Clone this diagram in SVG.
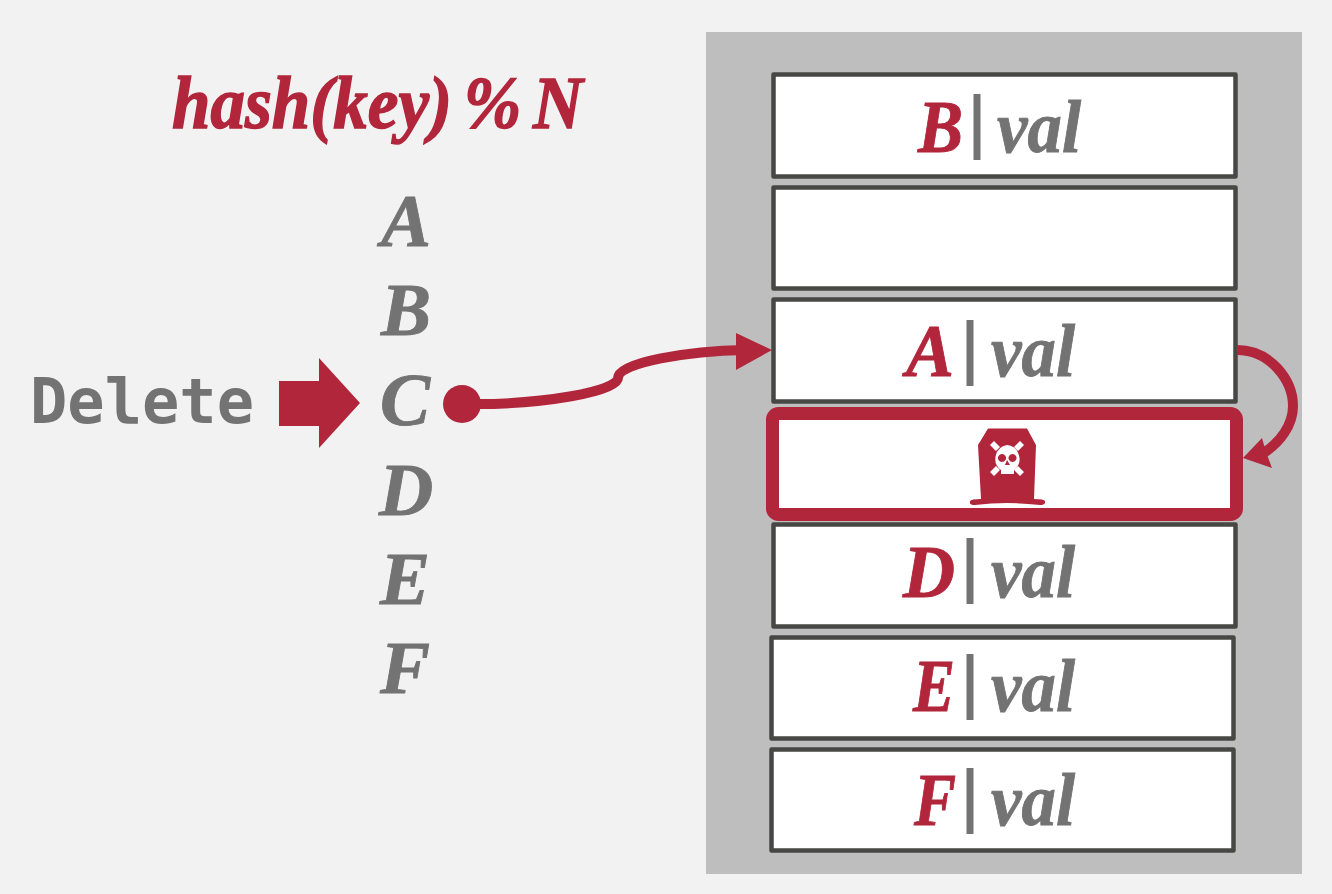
<svg xmlns="http://www.w3.org/2000/svg" width="1332" height="894" viewBox="0 0 1332 894">
  <style>
    .ser { font-family: "Liberation Serif", "Times New Roman", serif; font-weight: 700; font-style: italic; font-size: 75px; stroke-width: 0.9px; }
    .red { fill: #b2263c; }
    .ser.red { stroke: #b2263c; }
    .gray { fill: #737373; }
    .ser.gray, .ser .gray { stroke: #737373; }
    .slot { fill: #ffffff; stroke: #474744; stroke-width: 4.5; stroke-linejoin: round; }
    .bar { fill: none; stroke: #737373; stroke-width: 7; }
    .wire { fill: none; stroke: #b2263c; stroke-width: 10; }
  </style>
  <rect width="1332" height="894" fill="#f2f2f2"/>
  <rect id="table" x="706" y="32" width="596" height="842" fill="#bebebe"/>

  <g id="title"><text class="ser red" x="172" y="128" style="stroke-width:1.5px;word-spacing:-6px" textLength="411" lengthAdjust="spacingAndGlyphs">hash(key) % N</text></g>

  <g id="keys" class="ser gray" text-anchor="middle">
    <text id="key-a" x="406" y="246">A</text>
    <text id="key-b" x="406" y="335">B</text>
    <text id="key-c" x="405" y="425">C</text>
    <text id="key-d" x="406" y="515">D</text>
    <text id="key-e" x="405" y="604">E</text>
    <text id="key-f" x="405" y="693">F</text>
  </g>

  <g id="delete">
    <text x="30" y="423" font-family="'DejaVu Sans Mono', monospace" font-weight="700" font-size="63" fill="#737373" textLength="224" lengthAdjust="spacingAndGlyphs">Delete</text>
    <polygon class="red" points="279,381 319,381 319,358 360,403 319,448 319,426 279,426"/>
  </g>

  <g id="slot-b">
    <rect class="slot" x="773.500" y="74.500" width="462" height="102"/>
    <text class="ser red" x="918" y="152" textLength="45" lengthAdjust="spacingAndGlyphs">B</text><line class="bar" x1="977" y1="94" x2="977" y2="160"/><text class="ser gray" x="997" y="152" textLength="84" lengthAdjust="spacingAndGlyphs">val</text>
  </g>
  <g id="slot-empty"><rect class="slot" x="773.500" y="187.500" width="462" height="101"/></g>
  <g id="slot-a">
    <rect class="slot" x="773.500" y="299.500" width="462" height="102"/>
    <text class="ser red" x="906" y="376" textLength="48" lengthAdjust="spacingAndGlyphs">A</text><line class="bar" x1="970" y1="320" x2="970" y2="386"/><text class="ser gray" x="991" y="376" textLength="84" lengthAdjust="spacingAndGlyphs">val</text>
  </g>
  <g id="slot-tombstone">
    <rect x="772.500" y="413.500" width="464" height="101" rx="6" fill="#ffffff" stroke="#b2263c" stroke-width="13"/>
    <path class="red" d="M988,428.500 L1027,428.500 L1036,445 L1034,499 Q1044,499 1045,501 L1045,503 Q1044,505 1040,505 Q1007,501 975,505 Q970,505 970,503 L970,501 Q971,499 981,499 L978,445 Z"/>
    <g fill="#ffffff">
      <path d="M990,445 L994,441 L1000,447 L996,451 Z M1024,445 L1020,441 L1014,447 L1018,451 Z M990,472 L994,476 L1000,470 L996,466 Z M1024,472 L1020,476 L1014,470 L1018,466 Z"/>
      <path fill-rule="evenodd" d="M1007,445 A14,14 0 0 1 1014,470 L1014,474 L1001,474 L1001,470 A14,14 0 0 1 1007,445 Z M1002,454 a4,4 0 1 0 0.010,0 Z M1012.500,454 a4,4 0 1 0 0.010,0 Z"/>
      <path class="red" d="M1007,460 L1010,465 L1005,465 Z"/>
    </g>
  </g>
  <g id="slot-d">
    <rect class="slot" x="773.500" y="524.500" width="462" height="102"/>
    <text class="ser red" x="903" y="597" textLength="52" lengthAdjust="spacingAndGlyphs">D</text><line class="bar" x1="970" y1="538" x2="970" y2="604"/><text class="ser gray" x="991" y="597" textLength="84" lengthAdjust="spacingAndGlyphs">val</text>
  </g>
  <g id="slot-e">
    <rect class="slot" x="771.500" y="637.500" width="462" height="101"/>
    <text class="ser red" x="913" y="711" textLength="42" lengthAdjust="spacingAndGlyphs">E</text><line class="bar" x1="970" y1="654" x2="970" y2="720"/><text class="ser gray" x="991" y="711" textLength="84" lengthAdjust="spacingAndGlyphs">val</text>
  </g>
  <g id="slot-f">
    <rect class="slot" x="771.500" y="749.500" width="462" height="101"/>
    <text class="ser red" x="914" y="825" textLength="42" lengthAdjust="spacingAndGlyphs">F</text><line class="bar" x1="970" y1="768" x2="970" y2="834"/><text class="ser gray" x="991" y="825" textLength="84" lengthAdjust="spacingAndGlyphs">val</text>
  </g>

  <g id="connectors">
    <circle class="red" cx="462" cy="404" r="19"/>
    <path class="wire" d="M478,404 C540,404 618,392 618,378 C618,362 690,351 745,350"/>
    <polygon class="red" points="736,333 772,350 736,370"/>
    <path class="wire" d="M1237,350 C1270,350 1293,380 1293,406 C1293,425 1280,443 1262,454"/>
    <polygon class="red" points="1243,458 1262,438 1266,452 1272,468"/>
  </g>
</svg>
